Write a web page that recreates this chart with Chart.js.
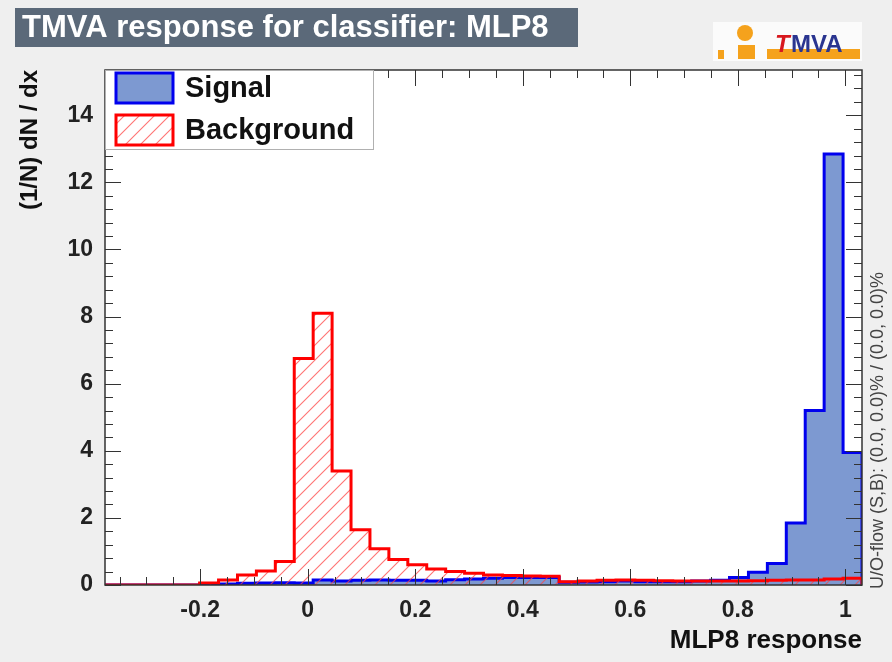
<!DOCTYPE html>
<html>
<head>
<meta charset="utf-8">
<script src="https://cdn.jsdelivr.net/npm/chart.js@4.4.0/dist/chart.umd.min.js"></script>
<style>
  body { margin: 0; background: #efefef; }
  #wrap { width: 892px; height: 662px; }
</style>
</head>
<body>
<div id="wrap"><canvas id="mlp8_canvas" width="892" height="662"></canvas></div>
<script>
// MLP8 response histograms, 40 equal bins from X_MIN to X_MAX
var X_MIN = -0.377;
var X_MAX = 1.031;
var N_BINS = 40;

var signalValues = [
  0, 0, 0, 0, 0, 0.02, 0.03, 0.05, 0.06, 0.07,
  0.06, 0.15, 0.12, 0.14, 0.15, 0.14, 0.14, 0.12, 0.16, 0.18,
  0.2, 0.22, 0.22, 0.22, 0.08, 0.09, 0.1, 0.12, 0.1, 0.1,
  0.1, 0.12, 0.14, 0.22, 0.38, 0.64, 1.85, 5.2, 12.85, 3.95
];
var backgroundValues = [
  0, 0, 0, 0, 0, 0.06, 0.15, 0.3, 0.42, 0.7,
  6.75, 8.1, 3.4, 1.65, 1.08, 0.76, 0.6, 0.48, 0.4, 0.35,
  0.3, 0.28, 0.27, 0.26, 0.1, 0.12, 0.14, 0.15, 0.14, 0.13,
  0.12, 0.12, 0.12, 0.12, 0.13, 0.14, 0.15, 0.15, 0.18, 0.2
];

var xTickLabels = ["-0.2", "0", "0.2", "0.4", "0.6", "0.8", "1"];
var yTickLabels = ["0", "2", "4", "6", "8", "10", "12", "14"];

var FONT = "'Liberation Sans', Arial, sans-serif";

// step outline: one point per left bin edge, closed down at the right edge
function histPoints(values) {
  var w = (X_MAX - X_MIN) / N_BINS;
  var pts = [];
  for (var i = 0; i < values.length; i++) {
    pts.push({ x: X_MIN + i * w, y: values[i] });
  }
  pts.push({ x: X_MAX, y: values[values.length - 1] });
  pts.push({ x: X_MAX, y: 0 });
  return pts;
}

function hatchPattern() {
  var s = 15;
  var c = document.createElement("canvas");
  c.width = s; c.height = s;
  var g = c.getContext("2d");
  g.strokeStyle = "rgba(255,70,70,0.75)";
  g.lineWidth = 1.1;
  g.beginPath();
  g.moveTo(0, s); g.lineTo(s, 0);
  g.moveTo(-s / 2, s / 2); g.lineTo(s / 2, -s / 2);
  g.moveTo(s / 2, s * 1.5); g.lineTo(s * 1.5, s / 2);
  g.stroke();
  return g.createPattern(c, "repeat");
}

function fmtX(v) {
  var s = String(Math.round(v * 100) / 100);
  return s === "-0" ? "0" : s;
}

var SIGNAL_FILL = "#7d99d1";
var SIGNAL_LINE = "#0000ee";
var BKG_LINE = "#ff0000";
var bkgHatch = hatchPattern();

// title box, logo, legend and side note
var decorations = {
  id: "decorations",
  beforeDraw: function (chart) {
    var ctx = chart.ctx;
    var a = chart.chartArea;
    ctx.save();
    ctx.fillStyle = "#efefef";
    ctx.fillRect(0, 0, chart.width, chart.height);
    ctx.fillStyle = "#ffffff";
    ctx.fillRect(a.left, a.top, a.right - a.left, a.bottom - a.top);

    // title box
    ctx.fillStyle = "#5b6979";
    ctx.fillRect(15, 8, 563, 39);
    ctx.fillStyle = "#ffffff";
    ctx.font = "bold 31px " + FONT;
    ctx.textBaseline = "middle";
    ctx.textAlign = "left";
    ctx.fillText("TMVA response for classifier: MLP8", 22, 28);

    // logo
    ctx.fillStyle = "#fbfbfb";
    ctx.fillRect(713, 22, 149, 39);
    ctx.fillStyle = "#f5a21c";
    ctx.beginPath(); ctx.arc(745, 33, 8, 0, Math.PI * 2); ctx.fill();
    ctx.fillRect(738, 45, 17, 14);
    ctx.fillRect(718, 50, 6, 9);
    ctx.fillRect(767, 49, 93, 10);
    ctx.font = "italic bold 24px " + FONT;
    ctx.textBaseline = "alphabetic";
    ctx.fillStyle = "#d8181e";
    ctx.fillText("T", 775, 52);
    ctx.font = "bold 24px " + FONT;
    ctx.fillStyle = "#2a3590";
    ctx.fillText("MVA", 791, 52);

    // under/overflow note along the right edge
    ctx.save();
    ctx.translate(878, 589);
    ctx.rotate(-Math.PI / 2);
    ctx.font = "18px " + FONT;
    ctx.fillStyle = "#444444";
    ctx.textBaseline = "middle";
    ctx.textAlign = "left";
    ctx.fillText("U/O-flow (S,B): (0.0, 0.0)% / (0.0, 0.0)%", 0, 0);
    ctx.restore();
    ctx.restore();
  },
  afterDatasetsDraw: function (chart) {
    var ctx = chart.ctx;
    var a = chart.chartArea;
    var xs = chart.scales.x, ys = chart.scales.y;
    ctx.save();
    ctx.strokeStyle = "#333333";
    ctx.lineWidth = 1;
    ctx.beginPath();
    xs.ticks.forEach(function (t) {
      var px = Math.round(xs.getPixelForValue(t.value)) + 0.5;
      var len = t.label ? 16 : 8;
      ctx.moveTo(px, a.bottom); ctx.lineTo(px, a.bottom - len);
      ctx.moveTo(px, a.top); ctx.lineTo(px, a.top + len);
    });
    ys.ticks.forEach(function (t) {
      var py = Math.round(ys.getPixelForValue(t.value)) + 0.5;
      var len = t.label ? 16 : 8;
      ctx.moveTo(a.left, py); ctx.lineTo(a.left + len, py);
      ctx.moveTo(a.right, py); ctx.lineTo(a.right - len, py);
    });
    ctx.stroke();
    ctx.lineWidth = 1.5;
    ctx.strokeRect(a.left, a.top, a.right - a.left, a.bottom - a.top);

    // legend box in the upper left corner of the frame
    var lx = a.left, ly = a.top;
    ctx.fillStyle = "#ffffff";
    ctx.fillRect(lx, ly, 268, 79);
    ctx.strokeStyle = "#b0b0b0";
    ctx.lineWidth = 1;
    ctx.strokeRect(lx + 0.5, ly + 0.5, 268, 79);
    var sets = chart.data.datasets;
    var rows = [{ ds: sets[1], y: ly + 3 }, { ds: sets[0], y: ly + 45 }];
    rows.forEach(function (r) {
      ctx.fillStyle = "#ffffff";
      ctx.fillRect(lx + 11, r.y, 57, 30);
      ctx.fillStyle = r.ds.backgroundColor;
      ctx.fillRect(lx + 11, r.y, 57, 30);
      ctx.strokeStyle = r.ds.borderColor;
      ctx.lineWidth = 3;
      ctx.strokeRect(lx + 11, r.y, 57, 30);
      ctx.fillStyle = "#111111";
      ctx.font = "bold 29px " + FONT;
      ctx.textBaseline = "middle";
      ctx.textAlign = "left";
      ctx.fillText(r.ds.label, lx + 80, r.y + 16);
    });
    ctx.restore();
  }
};

var ctx = document.getElementById("mlp8_canvas");
var mlp8Chart = new Chart(ctx, {
  type: "line",
  data: {
    datasets: [
      {
        label: "Background",
        data: histPoints(backgroundValues),
        stepped: true,
        borderColor: BKG_LINE,
        borderWidth: 3,
        backgroundColor: bkgHatch,
        fill: "origin",
        pointRadius: 0,
        order: 0
      },
      {
        label: "Signal",
        data: histPoints(signalValues),
        stepped: true,
        borderColor: SIGNAL_LINE,
        borderWidth: 3,
        backgroundColor: SIGNAL_FILL,
        fill: "origin",
        pointRadius: 0,
        order: 1
      }
    ]
  },
  options: {
    responsive: false,
    animation: false,
    layout: { padding: { left: 0, right: 30, top: 70, bottom: 0 } },
    plugins: {
      legend: { display: false },
      tooltip: { enabled: false }
    },
    scales: {
      x: {
        type: "linear",
        min: X_MIN,
        max: X_MAX,
        grid: { display: false, drawTicks: false },
        border: { display: false },
        ticks: {
          stepSize: 0.05,
          includeBounds: false,
          autoSkip: false,
          maxRotation: 0,
          padding: 12,
          color: "#222222",
          font: { family: FONT, size: 23, weight: "bold" },
          callback: function (v) {
            var s = fmtX(v);
            return xTickLabels.indexOf(s) >= 0 ? s : "";
          }
        },
        title: {
          display: true,
          text: "MLP8 response",
          align: "end",
          color: "#111111",
          font: { family: FONT, size: 26, weight: "bold" },
          padding: { top: 0, bottom: 6 }
        },
        afterFit: function (s) { s.height = 77; }
      },
      y: {
        min: 0,
        max: 15.35,
        grid: { display: false, drawTicks: false },
        border: { display: false },
        ticks: {
          stepSize: 0.4,
          includeBounds: false,
          autoSkip: false,
          padding: 12,
          color: "#222222",
          font: { family: FONT, size: 23, weight: "bold" },
          callback: function (v) {
            var s = String(Math.round(v * 10) / 10);
            return yTickLabels.indexOf(s) >= 0 ? s : "";
          }
        },
        title: {
          display: true,
          text: "(1/N) dN / dx",
          align: "end",
          color: "#111111",
          font: { family: FONT, size: 24, weight: "bold" },
          padding: { top: 16, bottom: 0 }
        },
        afterFit: function (s) { s.width = 105; }
      }
    }
  },
  plugins: [decorations]
});
</script>
</body>
</html>
